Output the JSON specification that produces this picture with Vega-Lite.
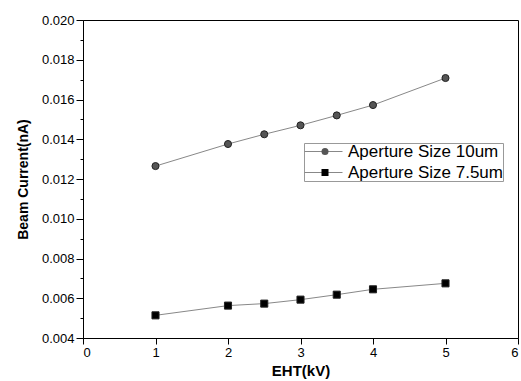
{
  "$schema": "https://vega.github.io/schema/vega-lite/v6.json",
  "width": 435,
  "height": 318,
  "autosize": {"type": "none"},
  "padding": {"left": 83, "top": 20, "right": 3, "bottom": 43},
  "background": "white",
  "config": {
    "view": {"stroke": "black", "strokeWidth": 1},
    "font": "Liberation Sans",
    "axis": {"domainColor": "black", "tickColor": "black", "labelColor": "black", "titleColor": "black", "grid": false, "labelFont": "Liberation Sans", "titleFont": "Liberation Sans"}
  },
  "data": {"values": [
    {"eht": 1, "current": 0.01265, "series": "Aperture Size 10um"},
    {"eht": 2, "current": 0.01376, "series": "Aperture Size 10um"},
    {"eht": 2.5, "current": 0.01425, "series": "Aperture Size 10um"},
    {"eht": 3, "current": 0.0147, "series": "Aperture Size 10um"},
    {"eht": 3.5, "current": 0.0152, "series": "Aperture Size 10um"},
    {"eht": 4, "current": 0.01572, "series": "Aperture Size 10um"},
    {"eht": 5, "current": 0.01708, "series": "Aperture Size 10um"},
    {"eht": 1, "current": 0.00514, "series": "Aperture Size 7.5um"},
    {"eht": 2, "current": 0.00563, "series": "Aperture Size 7.5um"},
    {"eht": 2.5, "current": 0.00573, "series": "Aperture Size 7.5um"},
    {"eht": 3, "current": 0.00593, "series": "Aperture Size 7.5um"},
    {"eht": 3.5, "current": 0.00618, "series": "Aperture Size 7.5um"},
    {"eht": 4, "current": 0.00645, "series": "Aperture Size 7.5um"},
    {"eht": 5, "current": 0.00675, "series": "Aperture Size 7.5um"}
  ]},
  "encoding": {
    "x": {"field": "eht", "type": "quantitative", "scale": {"domain": [0, 6], "nice": false},
      "axis": {"values": [0, 0.5, 1, 1.5, 2, 2.5, 3, 3.5, 4, 4.5, 5, 5.5, 6], "labelExpr": "datum.value % 1 === 0 ? datum.label : ''", "title": "EHT(kV)", "titleFontSize": 15, "titleFontWeight": "bold", "labelFontSize": 13, "tickSize": {"condition": {"test": "datum.value % 1 === 0", "value": 6}, "value": 3}, "labelPadding": 2, "titlePadding": 4, "format": "d", "labelOverlap": false}},
    "y": {"field": "current", "type": "quantitative", "scale": {"domain": [0.004, 0.02], "nice": false, "zero": false},
      "axis": {"values": [0.004, 0.005, 0.006, 0.007, 0.008, 0.009, 0.01, 0.011, 0.012, 0.013, 0.014, 0.015, 0.016, 0.017, 0.018, 0.019, 0.02], "labelExpr": "round(datum.value * 1000) % 2 === 0 ? format(datum.value, '.3f') : ''", "title": "Beam Current(nA)", "titleFontSize": 14, "titleFontWeight": "bold", "labelFontSize": 13, "tickSize": {"condition": {"test": "round(datum.value * 1000) % 2 === 0", "value": 7}, "value": 3}, "labelPadding": 2, "titlePadding": 11, "labelOverlap": false}}
  },
  "layer": [
    {
      "mark": {"type": "line", "strokeWidth": 1},
      "encoding": {
        "stroke": {"field": "series", "type": "nominal",
          "scale": {"range": ["#888888", "#888888"]},
          "legend": {
            "title": null, "orient": "none", "legendX": 221, "legendY": 123, "zindex": 0,
            "strokeColor": "#999999", "padding": 0, "labelFontSize": 17, "labelFont": "Liberation Sans", "labelColor": "black",
            "symbolType": "stroke", "symbolSize": 1444, "symbolStrokeWidth": 1, "symbolOffset": 0, "labelOffset": 5,
            "clipHeight": 17, "rowPadding": 3
          }}
      }
    },
    {
      "mark": {"type": "point", "filled": true, "opacity": 1, "strokeWidth": 1},
      "encoding": {
        "shape": {"field": "series", "type": "nominal",
          "scale": {"domain": ["Aperture Size 10um", "Aperture Size 7.5um"], "range": ["circle", "square"]},
          "legend": {
            "title": null, "orient": "none", "legendX": 221, "legendY": 123, "zindex": 1,
            "padding": 0, "labelFontSize": 17, "labelFont": "Liberation Sans", "labelOpacity": 0, "labelExpr": "''",
            "symbolSize": 49, "symbolOffset": 12.5, "labelOffset": 5, "clipHeight": 17, "rowPadding": 3,
            "symbolStrokeColor": "#222222", "symbolStrokeWidth": 1
          }},
        "fill": {"field": "series", "type": "nominal",
          "scale": {"domain": ["Aperture Size 10um", "Aperture Size 7.5um"], "range": ["#555555", "#000000"]},
          "legend": {
            "title": null, "orient": "none", "legendX": 221, "legendY": 123, "zindex": 1,
            "padding": 0, "labelFontSize": 17, "labelFont": "Liberation Sans", "labelOpacity": 0, "labelExpr": "''",
            "symbolSize": 49, "symbolOffset": 12.5, "labelOffset": 5, "clipHeight": 17, "rowPadding": 3,
            "symbolStrokeColor": "#222222", "symbolStrokeWidth": 1
          }},
        "stroke": {"value": "#222222"},
        "size": {"value": 50}
      }
    }
  ]
}
